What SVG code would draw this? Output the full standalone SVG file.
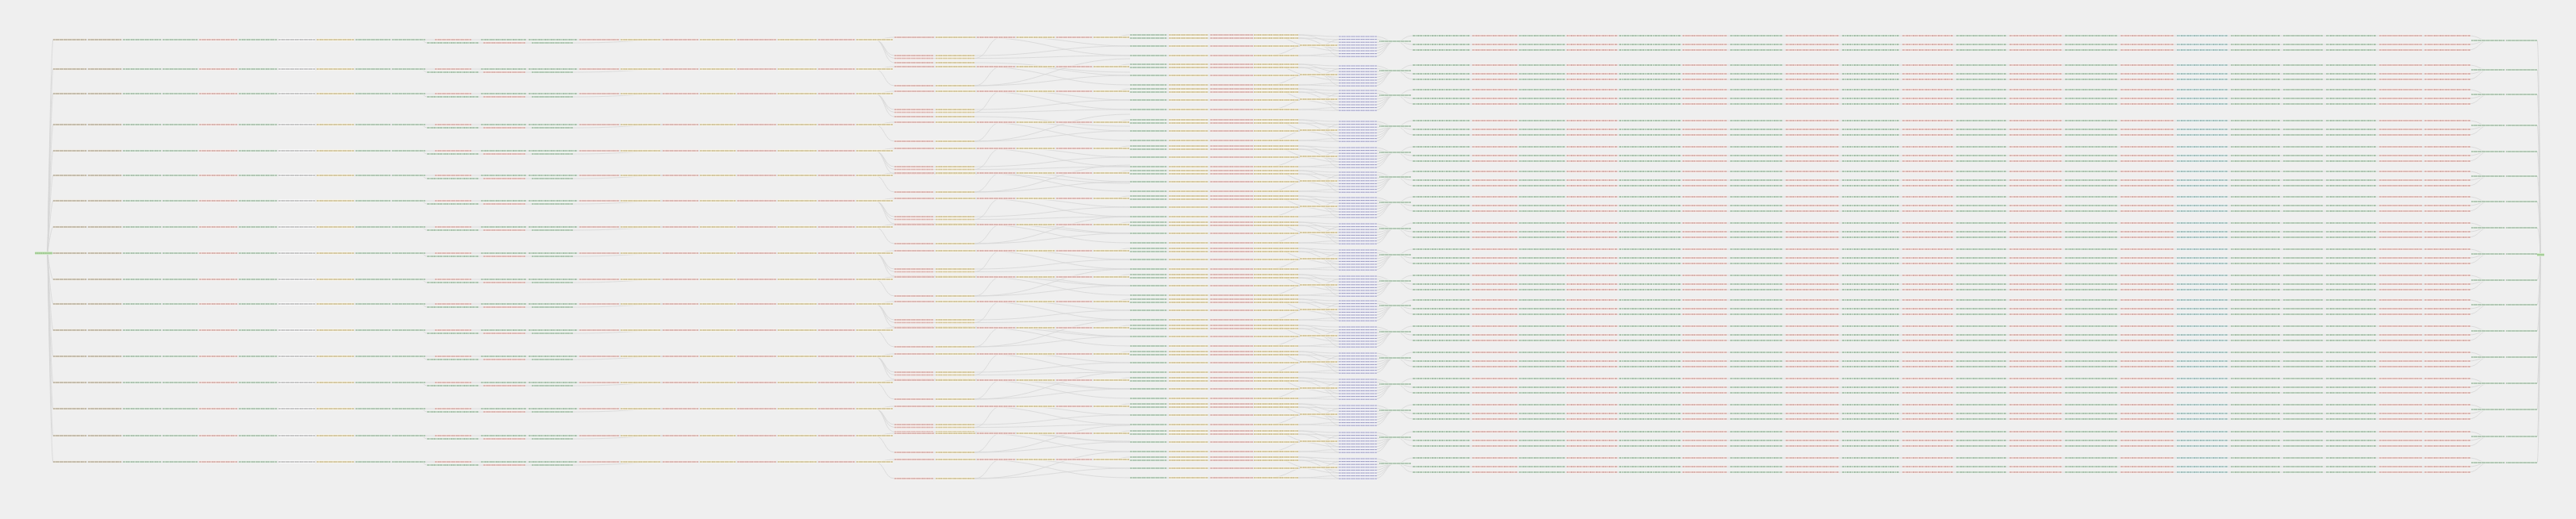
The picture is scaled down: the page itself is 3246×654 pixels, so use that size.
<svg xmlns="http://www.w3.org/2000/svg" width="3246" height="654" viewBox="0 0 3246 654">
<style>
.e{fill:none;stroke:#d6d6d6;stroke-width:.8}
.t{fill:url(#pt)}.g{fill:url(#pg)}.r{fill:url(#pr)}.y{fill:url(#py)}.w{fill:url(#pw)}.p{fill:url(#pp)}.c{fill:url(#pc)}.s{fill:url(#ps)}
</style>
<defs>
<path id="dp" d="M.004 .3H.04V.7H.004zM.05 .3H.068V.7H.05zM.078 .3H.12V.7H.078z"/>
<pattern id="pt" width=".125" height="1" patternContentUnits="objectBoundingBox"><rect width=".125" height="1" fill="#f3efe8"/><use href="#dp" fill="#a0967f"/></pattern>
<pattern id="pg" width=".125" height="1" patternContentUnits="objectBoundingBox"><rect width=".125" height="1" fill="#eef5ee"/><use href="#dp" fill="#86a58b"/></pattern>
<pattern id="pr" width=".125" height="1" patternContentUnits="objectBoundingBox"><rect width=".125" height="1" fill="#fbf0ee"/><use href="#dp" fill="#c4918a"/></pattern>
<pattern id="py" width=".125" height="1" patternContentUnits="objectBoundingBox"><rect width=".125" height="1" fill="#fbf7ec"/><use href="#dp" fill="#bba96f"/></pattern>
<pattern id="pw" width=".125" height="1" patternContentUnits="objectBoundingBox"><rect width=".125" height="1" fill="#fdfdfd"/><use href="#dp" fill="#a0a0a0"/></pattern>
<pattern id="pp" width=".125" height="1" patternContentUnits="objectBoundingBox"><rect width=".125" height="1" fill="#efeff7"/><use href="#dp" fill="#8c8cb8"/></pattern>
<pattern id="pc" width=".125" height="1" patternContentUnits="objectBoundingBox"><rect width=".125" height="1" fill="#ecf4f4"/><use href="#dp" fill="#7fa6a2"/></pattern>
<pattern id="ps" width=".125" height="1" patternContentUnits="objectBoundingBox"><rect width=".125" height="1" fill="#d3eacb"/><use href="#dp" fill="#84b873"/></pattern>

<g id="L4" transform="translate(0,-1.7)"><rect class="g" x="1424" width="46" height="3.4"/><rect class="y" x="1473" width="49" height="3.4"/><rect class="r" x="1525" width="54" height="3.4"/><rect class="y" x="1580" width="56" height="3.4"/></g>
<g id="L20" transform="translate(0,-1.7)"><rect class="g" x="1780" width="72" height="3.4"/><rect class="r" x="1855" width="57" height="3.4"/><rect class="g" x="1914" width="58" height="3.4"/><rect class="r" x="1974" width="64" height="3.4"/><rect class="g" x="2040" width="78" height="3.4"/><rect class="r" x="2120" width="56" height="3.4"/><rect class="g" x="2180" width="66" height="3.4"/><rect class="r" x="2250" width="67" height="3.4"/><rect class="g" x="2321" width="72" height="3.4"/><rect class="r" x="2397" width="64" height="3.4"/><rect class="g" x="2465" width="63" height="3.4"/><rect class="r" x="2532" width="66" height="3.4"/><rect class="g" x="2602" width="66" height="3.4"/><rect class="r" x="2672" width="67" height="3.4"/><rect class="c" x="2743" width="64" height="3.4"/><rect class="g" x="2811" width="62" height="3.4"/><rect class="g" x="2877" width="50" height="3.4"/><rect class="g" x="2931" width="63" height="3.4"/><rect class="r" x="2998" width="54" height="3.4"/><rect class="r" x="3055" width="58" height="3.4"/></g>
<rect id="P" class="p" x="1687" y="-1.5" width="48" height="3"/>
<g id="sc" transform="translate(0,-1.7)"><rect class="r" x="1127" width="49" height="3.4"/><rect class="y" x="1179" width="49" height="3.4"/></g>

<g id="R">
<g transform="translate(0,-1.7)">
<rect class="t" x="67" width="42" height="3.4"/><rect class="t" x="111" width="42" height="3.4"/><rect class="g" x="155" width="48" height="3.4"/><rect class="g" x="205" width="44" height="3.4"/><rect class="r" x="251" width="48" height="3.4"/><rect class="g" x="301" width="48" height="3.4"/><rect class="w" x="351" width="46" height="3.4"/><rect class="y" x="399" width="47" height="3.4"/><rect class="g" x="448" width="44" height="3.4"/><rect class="g" x="494" width="42" height="3.4"/>
<rect class="r" x="548" width="46" height="3.4"/><rect class="g" x="606" width="57" height="3.4"/><rect class="g" x="666" width="61" height="3.4"/><rect class="r" x="730" width="50" height="3.4"/><rect class="y" x="782" width="50" height="3.4"/>
<rect class="r" x="835" width="45" height="3.4"/><rect class="y" x="882" width="45" height="3.4"/><rect class="r" x="929" width="49" height="3.4"/><rect class="y" x="980" width="49" height="3.4"/><rect class="r" x="1031" width="46" height="3.4"/><rect class="y" x="1079" width="46" height="3.4"/>
</g>
<g transform="translate(0,2.3)"><rect class="g" x="538" width="65" height="3.4"/><rect class="r" x="609" width="53" height="3.4"/><rect class="g" x="670" width="52" height="3.4"/></g>
<g transform="translate(0,-4.7)"><rect class="r" x="1127" width="50" height="3.4"/><rect class="y" x="1179" width="50" height="3.4"/><rect class="r" x="1231" width="48" height="3.4"/><rect class="y" x="1281" width="48" height="3.4"/><rect class="r" x="1331" width="45" height="3.4"/><rect class="y" x="1378" width="45" height="3.4"/></g>
<use href="#L4" y="-6"/><use href="#L4" y="-2"/><use href="#L4" y="8"/><use href="#L4" y="20"/>
<rect class="y" x="1638" y="5.3" width="47" height="3.4"/>
<use href="#P" y="-4"/><use href="#P" y="-.4"/><use href="#P" y="3.2"/><use href="#P" y="6.8"/><use href="#P" y="10.4"/><use href="#P" y="14"/><use href="#P" y="17.6"/><use href="#P" y="21.2"/>
<rect class="g" x="1738" y=".3" width="40" height="3.4"/>
<use href="#L20" y="-5"/><use href="#L20" y="6"/><use href="#L20" y="13"/>
<rect class="g" x="3114" y="-.7" width="42" height="3.4"/><rect class="g" x="3158" y="-.7" width="39" height="3.4"/>
</g>
<g id="S3"><use href="#sc" y="20"/><use href="#sc" y="23.5"/><use href="#sc" y="29"/></g>
<g id="S1"><use href="#sc" y="21"/></g>

<g id="E" class="e">
<path d="M66 0H1102M530 0C534 0 534 4 538 4H722C790 4 800 0 845 0M1102 0C1114 0 1114-3 1127-3H1423"/>
<path d="M1229-3C1320-3 1330 20 1424 20M1279-3C1340-3 1360 8 1424 8M1400-3C1412-3 1412-6 1424-6M1400-3C1412-3 1412-2 1424-2"/>
<path d="M1424-6H1636M1424-2H1636M1424 8H1636M1424 20H1636"/>
<path d="M1636-6C1662-6 1662-4 1687-4M1636-6C1662-6 1662 3.2 1687 3.2M1636-2C1662-2 1662-.4 1687-.4M1636-2C1662-2 1662 10.4 1687 10.4M1636 8C1662 8 1662 6.8 1687 6.8M1636 8C1662 8 1662 14 1687 14M1636 20C1662 20 1662 17.6 1687 17.6M1636 20C1662 20 1662 21.2 1687 21.2"/>
<path d="M1600-6C1620-6 1630 7 1645 7M1600 20C1620 20 1630 7 1645 7"/>
<path d="M1661 7C1676 7 1676-.4 1690-.4M1661 7C1676 7 1676 6.8 1690 6.8M1661 7C1676 7 1676 14 1690 14M1661 7C1676 7 1676 21.2 1690 21.2"/>
<path d="M1732-4C1746-4 1746 2 1758 2M1732-.4C1746-.4 1746 2 1758 2M1732 3.2C1746 3.2 1746 2 1758 2M1732 6.8C1746 6.8 1746 2 1758 2M1732 10.4C1746 10.4 1746 2 1758 2M1732 14C1746 14 1746 2 1758 2M1732 17.6C1746 17.6 1746 2 1758 2M1732 21.2C1746 21.2 1746 2 1758 2"/>
<path d="M1758 2C1770 2 1768-5 1781-5M1758 2C1770 2 1768 6 1781 6M1758 2C1770 2 1768 13 1781 13M1780-5H3113M1780 6H3113M1780 13H3113M3110-5C3124-5 3124 1 3136 1M3110 6C3124 6 3124 1 3136 1M3110 13C3124 13 3124 1 3136 1M3136 1H3197"/>
</g>
<g id="E3" class="e"><path d="M1102 0C1115 0 1114 20 1127 20H1228C1320 20 1330 8 1424 8M1102 0C1115 0 1114 23.5 1127 23.5H1228C1320 23.5 1330 20 1424 20M1102 0C1115 0 1114 29 1127 29H1228C1330 29 1330 41 1424 41M1228 23.5C1245 23.5 1245-3 1262-3"/></g>
<g id="E1" class="e"><path d="M1102 0C1115 0 1114 21 1127 21H1228C1320 21 1330-13 1424-13M1228 21C1320 21 1340 8 1424 8M1228 21C1245 21 1245-3 1262-3"/></g>
</defs>

<rect width="3246" height="654" fill="#efefef"/>

<g id="connectors">
<path class="e" d="M60 319C60 319 64 50 67 50M60 319C60 319 64 87 67 87M60 319C60 319 64 118 67 118M60 319C60 319 64 157 67 157M60 319C60 319 64 190 67 190M60 319C60 319 64 221 67 221M60 319C60 319 64 253 67 253M60 319C60 319 64 286 67 286M60 319H67M60 319C60 319 64 352 67 352M60 319C60 319 64 383 67 383M60 319C60 319 64 416 67 416M60 319C60 319 64 449 67 449M60 319C60 319 64 482 67 482M60 319C60 319 64 515 67 515M60 319C60 319 64 549 67 549M60 319C60 319 64 582 67 582"/>
<path class="e" d="M3197 51C3200 51 3201 321 3201 321M3197 88C3200 88 3201 321 3201 321M3197 119C3200 119 3201 321 3201 321M3197 158C3200 158 3201 321 3201 321M3197 191C3200 191 3201 321 3201 321M3197 222C3200 222 3201 321 3201 321M3197 254C3200 254 3201 321 3201 321M3197 287C3200 287 3201 321 3201 321M3197 320H3201M3197 353C3200 353 3201 321 3201 321M3197 384C3200 384 3201 321 3201 321M3197 417C3200 417 3201 321 3201 321M3197 450C3200 450 3201 321 3201 321M3197 483C3200 483 3201 321 3201 321M3197 516C3200 516 3201 321 3201 321M3197 550C3200 550 3201 321 3201 321M3197 583C3200 583 3201 321 3201 321"/>
<use href="#E" y="50"/><use href="#E3" y="50"/>
<use href="#E" y="87"/><use href="#E1" y="87"/>
<use href="#E" y="118"/><use href="#E3" y="118"/>
<use href="#E" y="157"/><use href="#E1" y="157"/>
<use href="#E" y="190"/><use href="#E3" y="190"/>
<use href="#E" y="221"/><use href="#E1" y="221"/>
<use href="#E" y="253"/><use href="#E3" y="253"/>
<use href="#E" y="286"/><use href="#E1" y="286"/>
<use href="#E" y="319"/><use href="#E3" y="319"/>
<use href="#E" y="352"/><use href="#E1" y="352"/>
<use href="#E" y="383"/><use href="#E3" y="383"/>
<use href="#E" y="416"/><use href="#E1" y="416"/>
<use href="#E" y="449"/><use href="#E3" y="449"/>
<use href="#E" y="482"/><use href="#E1" y="482"/>
<use href="#E" y="515"/><use href="#E3" y="515"/>
<use href="#E" y="549"/><use href="#E1" y="549"/>
<use href="#E" y="582"/><use href="#E1" y="582"/>
</g>

<g id="start"><rect class="s" x="44" y="317" width="22" height="4"/></g>
<g id="row-01"><use href="#R" y="50"/><use href="#S3" y="50"/></g>
<g id="row-02"><use href="#R" y="87"/><use href="#S1" y="87"/></g>
<g id="row-03"><use href="#R" y="118"/><use href="#S3" y="118"/></g>
<g id="row-04"><use href="#R" y="157"/><use href="#S1" y="157"/></g>
<g id="row-05"><use href="#R" y="190"/><use href="#S3" y="190"/></g>
<g id="row-06"><use href="#R" y="221"/><use href="#S1" y="221"/></g>
<g id="row-07"><use href="#R" y="253"/><use href="#S3" y="253"/></g>
<g id="row-08"><use href="#R" y="286"/><use href="#S1" y="286"/></g>
<g id="row-09"><use href="#R" y="319"/><use href="#S3" y="319"/></g>
<g id="row-10"><use href="#R" y="352"/><use href="#S1" y="352"/></g>
<g id="row-11"><use href="#R" y="383"/><use href="#S3" y="383"/></g>
<g id="row-12"><use href="#R" y="416"/><use href="#S1" y="416"/></g>
<g id="row-13"><use href="#R" y="449"/><use href="#S3" y="449"/></g>
<g id="row-14"><use href="#R" y="482"/><use href="#S1" y="482"/></g>
<g id="row-15"><use href="#R" y="515"/><use href="#S3" y="515"/></g>
<g id="row-16"><use href="#R" y="549"/><use href="#S1" y="549"/></g>
<g id="row-17"><use href="#R" y="582"/><use href="#S1" y="582"/></g>
<g id="end"><rect class="s" x="3197" y="319" width="9" height="4"/></g>
</svg>
